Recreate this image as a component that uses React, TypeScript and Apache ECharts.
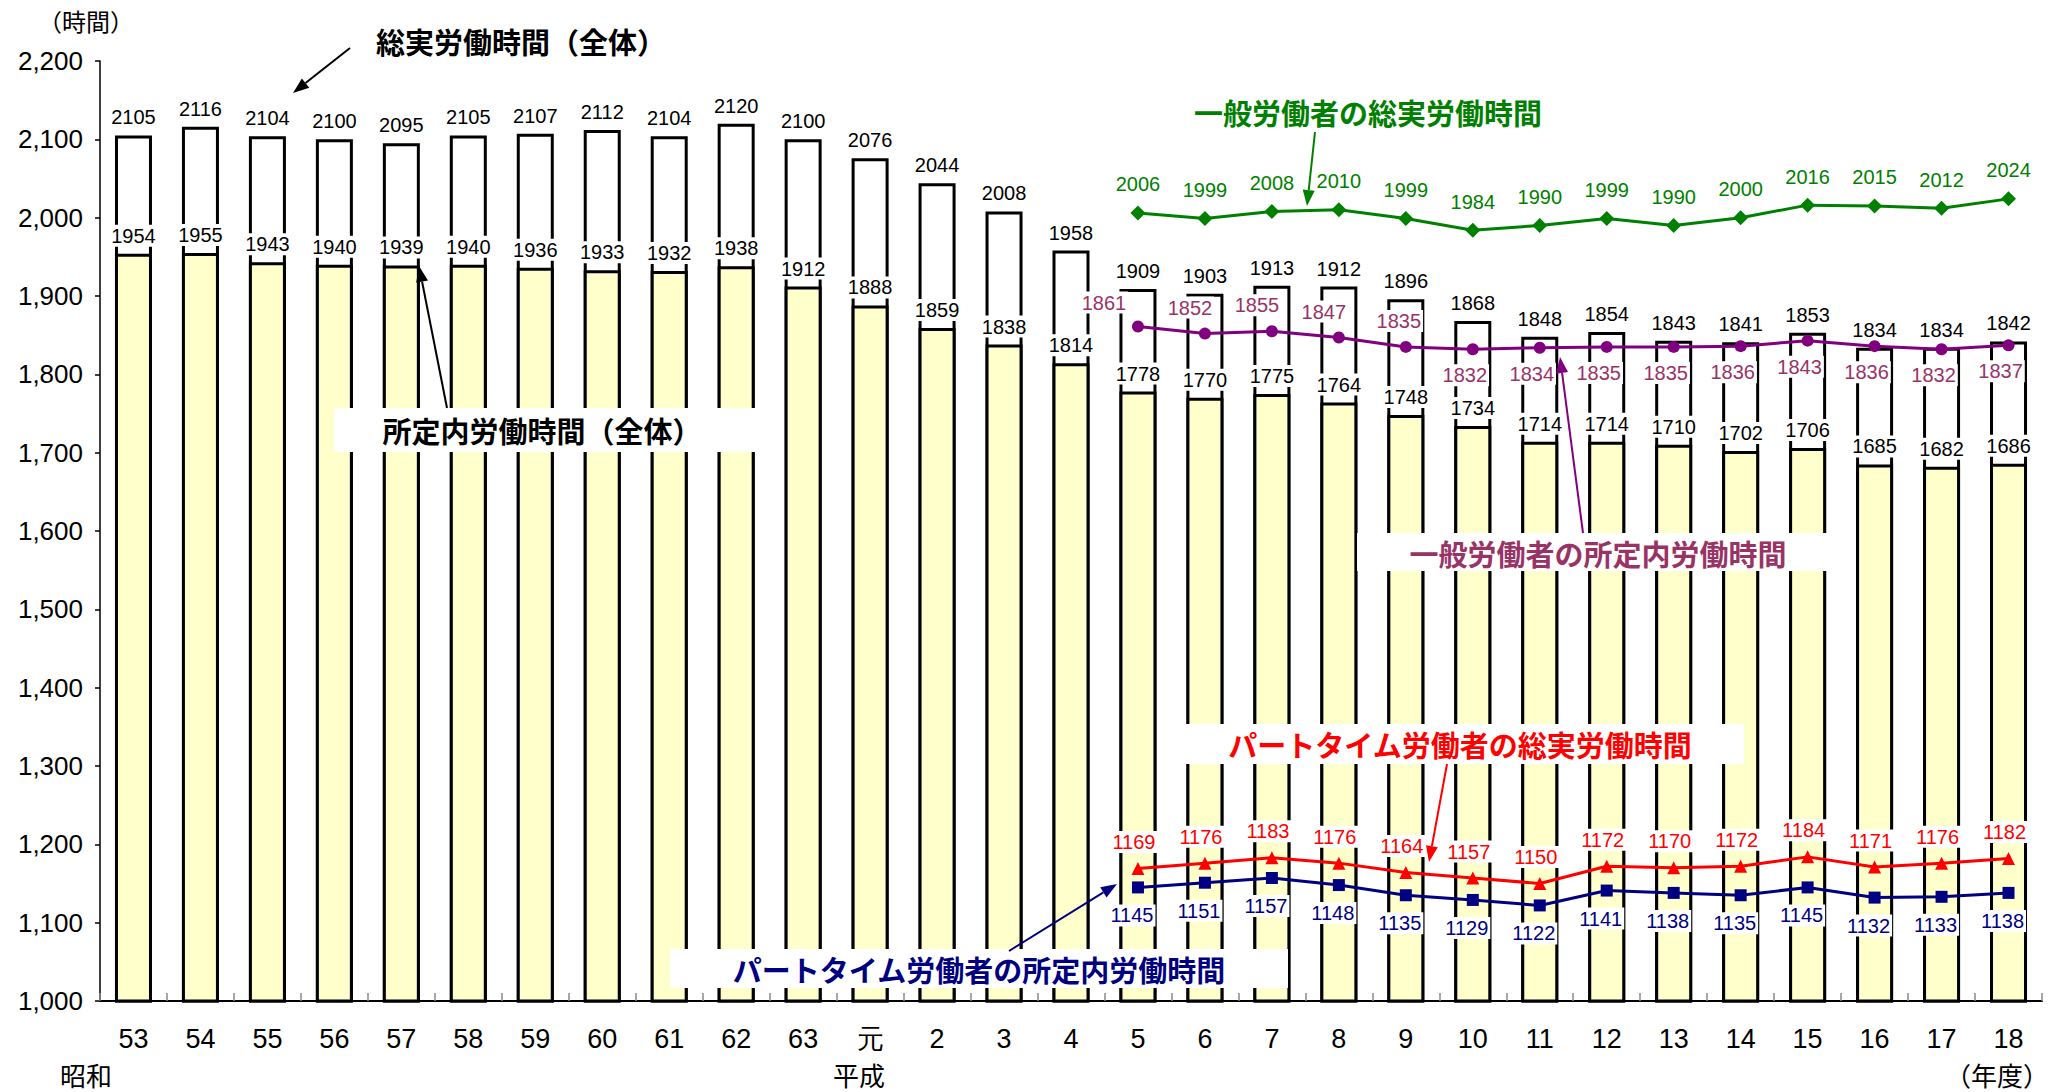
import React, { useEffect, useRef } from "react";
import * as echarts from "echarts";

const categories = ["53","54","55","56","57","58","59","60","61","62","63","元","2","3","4","5","6","7","8","9","10","11","12","13","14","15","16","17","18"];
const totalAll = [2105,2116,2104,2100,2095,2105,2107,2112,2104,2120,2100,2076,2044,2008,1958,1909,1903,1913,1912,1896,1868,1848,1854,1843,1841,1853,1834,1834,1842];
const scheduledAll = [1954,1955,1943,1940,1939,1940,1936,1933,1932,1938,1912,1888,1859,1838,1814,1778,1770,1775,1764,1748,1734,1714,1714,1710,1702,1706,1685,1682,1686];
const generalTotal = [2006,1999,2008,2010,1999,1984,1990,1999,1990,2000,2016,2015,2012,2024];
const generalScheduled = [1861,1852,1855,1847,1835,1832,1834,1835,1835,1836,1843,1836,1832,1837];
const partTotal = [1169,1176,1183,1176,1164,1157,1150,1172,1170,1172,1184,1171,1176,1182];
const partScheduled = [1145,1151,1157,1148,1135,1129,1122,1141,1138,1135,1145,1132,1133,1138];
const yTicks = { min: 1000, max: 2200, interval: 100 };

const NUM_FONT = "'Liberation Sans', Arial, sans-serif";
const CJK_FONT = "'Noto Sans CJK JP', 'Noto Sans', sans-serif";

const padLine = (vals: number[]) => {
  const lead = categories.length - vals.length;
  return [...Array(lead).fill("-"), ...vals];
};

function arrow(x1: number, y1: number, x2: number, y2: number, color: string, w = 2, head = 16, hw = 6) {
  const dx = x2 - x1, dy = y2 - y1;
  const L = Math.hypot(dx, dy);
  const ux = dx / L, uy = dy / L;
  const px = -uy, py = ux;
  const bx = x2 - ux * head, by = y2 - uy * head;
  return [
    { type: "line", z: 100, shape: { x1, y1, x2: bx, y2: by }, style: { stroke: color, lineWidth: w } },
    { type: "polygon", z: 100, shape: { points: [[x2, y2], [bx + px * hw, by + py * hw], [bx - px * hw, by - py * hw]] }, style: { fill: color } },
  ];
}

function boxText(cx: number, cy: number, text: string, color: string, box?: [number, number, number, number]) {
  const els: any[] = [];
  if (box) {
    els.push({ type: "rect", z: 99, shape: { x: box[0], y: box[1], width: box[2] - box[0], height: box[3] - box[1] }, style: { fill: "#fff" } });
  }
  els.push({
    type: "text", z: 101, x: cx, y: cy,
    style: { text, fill: color, font: `bold 29px ${CJK_FONT}`, align: "center", verticalAlign: "middle" },
  });
  return els;
}

const lblBase = {
  show: true,
  fontFamily: NUM_FONT,
  fontSize: 20,
  backgroundColor: "#fff",
  padding: [1, 2],
};

export default function App() {
  const ref = useRef<HTMLDivElement>(null);
  useEffect(() => {
    if (!ref.current) return;
    const chart = echarts.init(ref.current, null, { renderer: "svg" });

    const purpleData = padLine(generalScheduled).map((v, i) => {
      const k = i - (categories.length - generalScheduled.length);
      if (k < 0) return v;
      let label: any;
      if (k === 0) label = { position: "top", distance: 7, offset: [-34, 0] };
      else if (k < 4) label = { position: "top", distance: 9, offset: [-15, 0] };
      else if (k === 4) label = { position: "top", distance: 9, offset: [-7, 0] };
      else label = { position: "bottom", distance: 9, offset: [-8, 0] };
      return { value: v, label };
    });

    const option: any = {
      animation: false,
      backgroundColor: "#fff",
      grid: { left: 100, right: 30, top: 61, bottom: 91, containLabel: false },
      xAxis: {
        type: "category",
        data: categories,
        boundaryGap: true,
        axisLine: { lineStyle: { color: "#000", width: 2 } },
        axisTick: { show: true, inside: true, length: 8, alignWithLabel: false, lineStyle: { color: "#888", width: 1.5 } },
        axisLabel: { color: "#000", fontFamily: NUM_FONT, fontSize: 27, margin: 24 },
      },
      yAxis: {
        type: "value",
        min: yTicks.min,
        max: yTicks.max,
        interval: yTicks.interval,
        axisLine: { show: true, lineStyle: { color: "#000", width: 1.5 } },
        axisTick: { show: true, inside: false, length: 5, lineStyle: { color: "#000", width: 1.5 } },
        splitLine: { show: false },
        axisLabel: {
          color: "#000", fontFamily: NUM_FONT, fontSize: 26, margin: 17,
          formatter: (v: number) => v.toLocaleString("en-US"),
        },
      },
      series: [
        {
          name: "総実労働時間（全体）",
          type: "bar",
          data: totalAll,
          barWidth: 37,
          barGap: "-100%",
          itemStyle: { color: "#ffffff", borderColor: "#000", borderWidth: 3 },
          label: { ...lblBase, position: "top", distance: 7, color: "#000" },
          z: 2,
        },
        {
          name: "所定内労働時間（全体）",
          type: "bar",
          data: scheduledAll,
          barWidth: 37,
          barGap: "-100%",
          itemStyle: { color: "#FFFFCC", borderColor: "#000", borderWidth: 3 },
          label: { ...lblBase, position: "top", distance: 7, color: "#000" },
          z: 3,
        },
        {
          name: "一般労働者の総実労働時間",
          type: "line",
          data: padLine(generalTotal),
          symbol: "diamond",
          symbolSize: 15,
          lineStyle: { color: "#008000", width: 3 },
          itemStyle: { color: "#008000" },
          label: { ...lblBase, position: "top", distance: 10, color: "#008000" },
          z: 5,
        },
        {
          name: "一般労働者の所定内労働時間",
          type: "line",
          data: purpleData,
          symbol: "circle",
          symbolSize: 12,
          lineStyle: { color: "#800080", width: 3 },
          itemStyle: { color: "#800080" },
          label: { ...lblBase, color: "#993366" },
          z: 5,
        },
        {
          name: "パートタイム労働者の総実労働時間",
          type: "line",
          data: padLine(partTotal),
          symbol: "triangle",
          symbolSize: 13,
          lineStyle: { color: "#FF0000", width: 3 },
          itemStyle: { color: "#FF0000" },
          label: { ...lblBase, position: "top", distance: 9, offset: [-4, 0], color: "#FF0000" },
          z: 5,
        },
        {
          name: "パートタイム労働者の所定内労働時間",
          type: "line",
          data: padLine(partScheduled),
          symbol: "rect",
          symbolSize: 12,
          lineStyle: { color: "#000080", width: 3 },
          itemStyle: { color: "#000080" },
          label: { ...lblBase, position: "bottom", distance: 11, offset: [-6, 0], color: "#000080" },
          z: 5,
        },
      ],
      graphic: [
        { type: "text", z: 101, x: 86, y: 20, style: { text: "（時間）", fill: "#000", font: `24px ${CJK_FONT}`, align: "center", verticalAlign: "middle" } },
        { type: "text", z: 101, x: 86, y: 1074, style: { text: "昭和", fill: "#000", font: `26px ${CJK_FONT}`, align: "center", verticalAlign: "middle" } },
        { type: "text", z: 101, x: 859, y: 1074, style: { text: "平成", fill: "#000", font: `26px ${CJK_FONT}`, align: "center", verticalAlign: "middle" } },
        { type: "text", z: 101, x: 1997, y: 1074, style: { text: "（年度）", fill: "#000", font: `26px ${CJK_FONT}`, align: "center", verticalAlign: "middle" } },
        ...boxText(521, 41, "総実労働時間（全体）", "#000"),
        ...arrow(350, 48, 293, 93, "#000", 2),
        ...boxText(542, 430, "所定内労働時間（全体）", "#000", [334, 408, 756, 452]),
        ...arrow(447, 408, 419, 266, "#000", 2),
        ...boxText(1368, 112, "一般労働者の総実労働時間", "#008000"),
        ...arrow(1315, 132, 1307, 206, "#008000", 2),
        ...boxText(1598, 553, "一般労働者の所定内労働時間", "#993366", [1357, 533, 1827, 571]),
        ...arrow(1583, 533, 1560, 357, "#800080", 2),
        ...boxText(1460, 744, "パートタイム労働者の総実労働時間", "#FF0000", [1185, 724, 1744, 764]),
        ...arrow(1447, 764, 1429, 862, "#FF0000", 2),
        ...boxText(979, 969, "パートタイム労働者の所定内労働時間", "#000080", [670, 949, 1288, 988]),
        ...arrow(1009, 951, 1117, 884, "#000080", 2),
      ],
    };
    chart.setOption(option);
    return () => chart.dispose();
  }, []);
  return (
    <div
      ref={ref}
      style={{ position: "fixed", left: 0, top: 0, width: 2072, height: 1092, background: "#fff" }}
    />
  );
}
